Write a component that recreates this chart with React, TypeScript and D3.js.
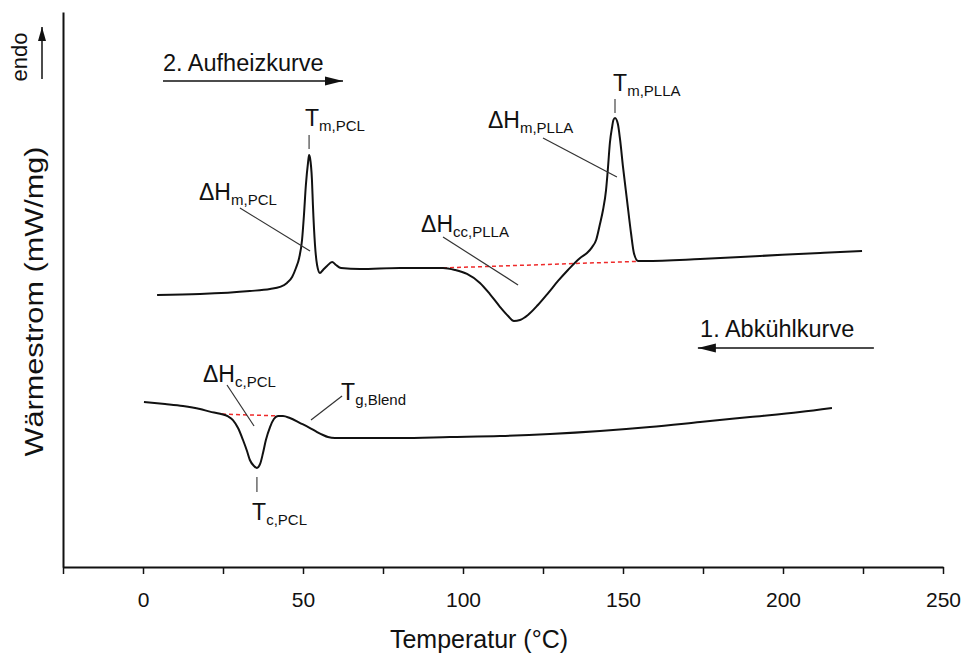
import React, { useEffect, useRef } from "react";
import * as d3 from "d3";

const width = 963;
const height = 659;
const margin = { top: 12, right: 20, bottom: 92, left: 63 };
const font = "'Liberation Sans', Arial, Helvetica, sans-serif";

// x axis: temperature in °C, ticks every 25, labels every 50
const xTicks = [-25, 0, 25, 50, 75, 100, 125, 150, 175, 200, 225, 250];
const xLabelStep = 50;

// 2. Aufheizkurve (temperature, heat flow in arbitrary units, endo up)
const heatingCurve: [number, number][] = [
  [4.4, 2.45], [17.8, 2.459], [33.4, 2.486], [39.7, 2.505], [42.8, 2.523],
  [45.0, 2.559], [46.6, 2.613], [47.8, 2.694], [48.8, 2.784], [49.7, 2.946],
  [50.3, 3.171], [50.9, 3.441], [51.6, 3.649], [51.9, 3.712], [52.2, 3.685],
  [52.8, 3.486], [53.1, 3.261], [53.75, 2.901], [54.4, 2.721], [55.3, 2.649],
  [56.25, 2.676], [57.5, 2.712], [59.1, 2.748], [60.3, 2.721], [61.9, 2.694],
  [67.8, 2.685], [80.3, 2.694], [93.75, 2.694], [97.5, 2.676], [101.25, 2.64],
  [105.3, 2.559], [108.4, 2.459], [111.6, 2.342], [114.1, 2.261], [115.9, 2.216],
  [117.8, 2.225], [120.3, 2.27], [123.4, 2.36], [126.6, 2.468], [129.7, 2.577],
  [132.8, 2.676], [136.6, 2.784], [138.75, 2.829], [140.3, 2.88], [141.6, 2.946],
  [142.8, 3.09], [143.75, 3.216], [144.7, 3.396], [145.3, 3.595], [145.9, 3.82],
  [146.6, 3.964], [147.0, 4.027], [147.5, 4.045], [148.4, 3.991], [149.1, 3.847],
  [150.0, 3.604], [151.25, 3.306], [152.5, 3.009], [153.4, 2.829], [154.7, 2.757],
  [156.9, 2.757], [174.1, 2.775], [192.8, 2.802], [211.6, 2.829], [224.7, 2.847],
];

// 1. Abkühlkurve
const coolingCurve: [number, number][] = [
  [0.3, 1.486], [6.9, 1.468], [12.5, 1.45], [17.8, 1.423], [20.9, 1.4],
  [24.1, 1.38], [26.6, 1.356], [28.1, 1.324], [29.7, 1.252], [31.25, 1.144],
  [32.5, 1.045], [33.4, 0.964], [34.7, 0.91], [35.6, 0.892], [36.6, 0.928],
  [37.5, 1.027], [38.4, 1.144], [39.7, 1.261], [40.9, 1.333], [42.2, 1.36],
  [43.75, 1.36], [45.9, 1.342], [49.1, 1.297], [52.2, 1.252], [54.4, 1.216],
  [56.25, 1.189], [57.8, 1.171], [60, 1.162], [64.7, 1.162], [80.3, 1.162],
  [95.9, 1.171], [111.6, 1.18], [127.2, 1.198], [142.8, 1.225], [158.4, 1.261],
  [174.1, 1.306], [189.7, 1.351], [205.3, 1.396], [215.3, 1.432],
];

// integration baselines (red dashed)
const baselines: [number, number][][] = [
  [[93.75, 2.694], [158.4, 2.757]],
  [[24.7, 1.378], [43.4, 1.36]],
];

// labels with a short vertical tick pointing at the peak
const peakLabels = [
  { main: "T", sub: "m,PCL", at: [50.6, 3.973], tick: [51.9, 3.892, 3.766] },
  { main: "T", sub: "m,PLLA", at: [146.9, 4.288], tick: [147.5, 4.216, 4.09] },
  { main: "T", sub: "c,PCL", at: [34.1, 0.423], tick: [35.6, 0.811, 0.676] },
];

// labels with a leader line
const leaderLabels = [
  { main: "ΔH", sub: "m,PCL", at: [17.5, 3.306], from: [30.3, 3.234], to: [52.2, 2.847] },
  { main: "ΔH", sub: "m,PLLA", at: [107.8, 3.955], from: [125, 3.865], to: [148.1, 3.514] },
  { main: "ΔH", sub: "cc,PLLA", at: [86.9, 3.018], from: [93.75, 2.973], to: [117.2, 2.541] },
  { main: "ΔH", sub: "c,PCL", at: [18.75, 1.667], from: [26.25, 1.64], to: [34.7, 1.27] },
  { main: "T", sub: "g,Blend", at: [61.9, 1.505], from: [62.2, 1.541], to: [52.5, 1.324] },
];

// scan direction arrows
const directions = [
  { text: "2. Aufheizkurve", at: [6.25, 4.468], arrow: [6.25, 62.5, 4.378] },
  { text: "1. Abkühlkurve", at: [174.1, 2.072], arrow: [228.4, 173.4, 1.973] },
];

export default function App() {
  const xAxisRef = useRef<SVGGElement>(null);
  const yAxisRef = useRef<SVGGElement>(null);
  const innerH = height - margin.top - margin.bottom;

  const x = d3.scaleLinear().domain([-25, 250]).range([margin.left, width - margin.right]);
  const y = d3.scaleLinear().domain([0, 5]).range([height - margin.bottom, margin.top]);

  const line = d3
    .line<[number, number]>()
    .x((d) => x(d[0]))
    .y((d) => y(d[1]))
    .curve(d3.curveMonotoneX);

  useEffect(() => {
    const gx = d3.select(xAxisRef.current!);
    gx.call(
      d3
        .axisBottom(x)
        .tickValues(xTicks)
        .tickSize(7)
        .tickSizeOuter(0)
        .tickPadding(18)
        .tickFormat((d) => ((d as number) % xLabelStep === 0 ? String(d) : ""))
    );
    gx.select(".domain").attr("stroke-width", 2).attr("stroke", "#111");
    gx.selectAll(".tick line").attr("stroke-width", 1.5).attr("stroke", "#111");
    gx.selectAll("text").attr("font-size", 21).attr("font-family", font).attr("fill", "#111");

    const gy = d3.select(yAxisRef.current!);
    gy.call(d3.axisLeft(y).tickValues([]).tickSizeOuter(0));
    gy.select(".domain").attr("stroke-width", 2).attr("stroke", "#111");
  }, []);

  return (
    <svg
      width={width}
      height={height}
      style={{ position: "absolute", left: 0, top: 0, background: "#fff" }}
      fontFamily={font}
    >
      <defs>
        <marker id="head" markerUnits="userSpaceOnUse" markerWidth={19} markerHeight={10}
          refX={18} refY={5} orient="auto">
          <path d="M0,0.5 L18,5 L0,9.5 Z" fill="#111" />
        </marker>
        <marker id="headSmall" markerUnits="userSpaceOnUse" markerWidth={15} markerHeight={9}
          refX={14} refY={4.5} orient="auto">
          <path d="M0,0.5 L14,4.5 L0,8.5 Z" fill="#111" />
        </marker>
      </defs>

      <g ref={xAxisRef} transform={`translate(0,${height - margin.bottom})`} />
      <g ref={yAxisRef} transform={`translate(${margin.left},0)`} />

      <text x={x(105)} y={648} textAnchor="middle" fontSize={25} fill="#111">
        Temperatur (°C)
      </text>
      <text transform={`translate(43,${margin.top + innerH / 2 + 12}) rotate(-90)`}
        textAnchor="middle" fontSize={25} textLength={310} lengthAdjust="spacingAndGlyphs" fill="#111">
        Wärmestrom (mW/mg)
      </text>
      <text transform="translate(27,57) rotate(-90)" textAnchor="middle" fontSize={22} fill="#111">
        endo
      </text>
      <line x1={42} y1={79} x2={42} y2={27} stroke="#111" strokeWidth={1.5} markerEnd="url(#headSmall)" />

      {baselines.map((b, i) => (
        <path key={i} d={line(b)!} fill="none" stroke="#ee2a2a" strokeWidth={1.5} strokeDasharray="4,3" />
      ))}

      <path d={line(heatingCurve)!} fill="none" stroke="#111" strokeWidth={2} />
      <path d={line(coolingCurve)!} fill="none" stroke="#111" strokeWidth={2} />

      {directions.map((d) => (
        <g key={d.text}>
          <text x={x(d.at[0])} y={y(d.at[1])} fontSize={23.5} fill="#111">{d.text}</text>
          <line x1={x(d.arrow[0])} x2={x(d.arrow[1])} y1={y(d.arrow[2])} y2={y(d.arrow[2])}
            stroke="#111" strokeWidth={1.5} markerEnd="url(#head)" />
        </g>
      ))}

      {peakLabels.map((p) => (
        <g key={p.sub}>
          <text x={x(p.at[0])} y={y(p.at[1])} fontSize={23} fill="#111">
            {p.main}
            <tspan dy={5} fontSize={15}>{p.sub}</tspan>
          </text>
          <line x1={x(p.tick[0])} x2={x(p.tick[0])} y1={y(p.tick[1])} y2={y(p.tick[2])}
            stroke="#444" strokeWidth={1.2} />
        </g>
      ))}

      {leaderLabels.map((p) => (
        <g key={p.sub}>
          <text x={x(p.at[0])} y={y(p.at[1])} fontSize={23} fill="#111">
            {p.main}
            <tspan dy={5} fontSize={15}>{p.sub}</tspan>
          </text>
          <line x1={x(p.from[0])} y1={y(p.from[1])} x2={x(p.to[0])} y2={y(p.to[1])}
            stroke="#333" strokeWidth={1.2} />
        </g>
      ))}
    </svg>
  );
}
